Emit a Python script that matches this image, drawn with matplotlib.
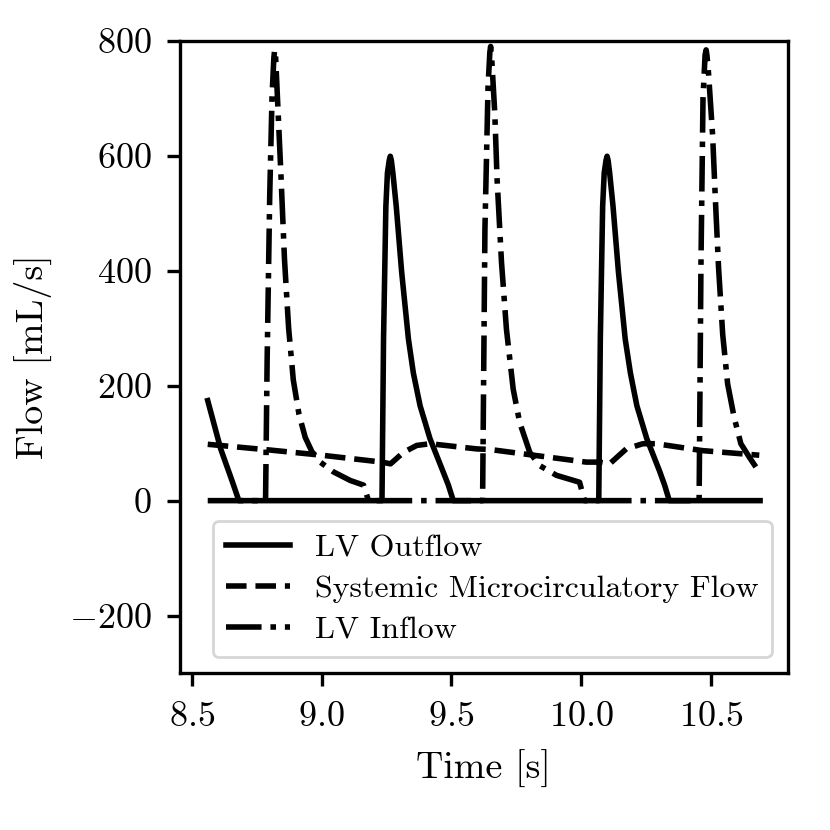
import numpy as np
import matplotlib
matplotlib.use("Agg")
import matplotlib.pyplot as plt

plt.rcParams['font.family'] = 'serif'
plt.rcParams['font.serif'] = ['cmr10']
plt.rcParams['mathtext.fontset'] = 'cm'
plt.rcParams['axes.formatter.use_mathtext'] = True
plt.rcParams['font.size'] = 13
plt.rcParams['axes.labelsize'] = 13.7
plt.rcParams['axes.linewidth'] = 1.2
for a in ('xtick', 'ytick'):
    plt.rcParams[a + '.major.size'] = 4.7
    plt.rcParams[a + '.major.width'] = 1.2
    plt.rcParams[a + '.major.pad'] = 5.5

# LV outflow [mL/s]
t_out = [8.560, 8.610, 8.655, 8.680,
         9.232, 9.238, 9.247, 9.253, 9.260, 9.264, 9.268, 9.274, 9.287,
         9.308, 9.334, 9.353, 9.379, 9.417, 9.468, 9.488, 9.507,
         10.068, 10.074, 10.083, 10.089, 10.096, 10.100, 10.104, 10.110,
         10.123, 10.144, 10.170, 10.190, 10.215, 10.253, 10.302, 10.322,
         10.340, 10.690]
q_out = [174, 90, 33, 0,
         0, 281, 512, 570, 592, 599, 592, 570, 512,
         397, 281, 222, 165, 108, 50, 27, 0,
         0, 281, 512, 570, 592, 599, 592, 570,
         512, 397, 281, 222, 165, 108, 52, 27,
         0, 0]

# systemic microcirculatory flow
t_sys = [8.560, 8.800, 9.000, 9.232, 9.265, 9.315, 9.366, 9.417, 9.597,
         9.648, 10.020, 10.071, 10.110, 10.174, 10.238, 10.289, 10.468, 10.687]
q_sys = [98, 88, 79, 67, 64, 84, 96, 99, 90,
         89, 67, 67, 64, 90, 99, 99, 87, 79]

# LV inflow
t_in = [8.560, 8.783, 8.789, 8.799, 8.808, 8.815, 8.818, 8.822, 8.830,
        8.843, 8.856, 8.872, 8.890, 8.912, 8.936, 8.962, 8.994, 9.045,
        9.110, 9.161, 9.180,
        9.620, 9.629, 9.641, 9.648, 9.651, 9.655, 9.667, 9.676, 9.693,
        9.712, 9.738, 9.763, 9.802, 9.840, 9.905, 9.994, 10.013,
        10.455, 10.462, 10.470, 10.478, 10.482, 10.485, 10.490, 10.507,
        10.518, 10.530, 10.546, 10.565, 10.590, 10.616, 10.648, 10.682]
q_in = [0, 0, 241, 529, 703, 770, 784, 770, 690,
        560, 420, 300, 210, 150, 110, 85, 67, 50,
        35, 27, 0,
        0, 472, 720, 780, 790, 770, 674, 558, 414,
        298, 194, 136, 84, 61, 44, 32, 0,
        0, 406, 700, 775, 784, 775, 752, 636,
        521, 405, 289, 203, 145, 99, 76, 53]

fig = plt.figure(figsize=(4.15, 4.15), dpi=200)
ax = fig.add_subplot(111)
ax.plot(t_out, q_out, color='k', linestyle='-', linewidth=2.0, label='LV Outflow')
ax.plot(t_sys, q_sys, color='k', linestyle='--', linewidth=2.0,
        label='Systemic Microcirculatory Flow')
ax.plot(t_in, q_in, color='k', linestyle='-.', linewidth=2.0, label='LV Inflow')

ax.set_ylim(-300, 800)
ax.set_xticks([8.5, 9.0, 9.5, 10.0, 10.5])
ax.set_xlabel('Time [s]', labelpad=6)
ax.set_ylabel('Flow [mL/s]', labelpad=6)
ax.legend(loc='lower right', fontsize=11.5, labelspacing=0.4)

fig.subplots_adjust(left=0.217, right=0.949, top=0.951, bottom=0.189)
fig.savefig('out.png', dpi=200)
